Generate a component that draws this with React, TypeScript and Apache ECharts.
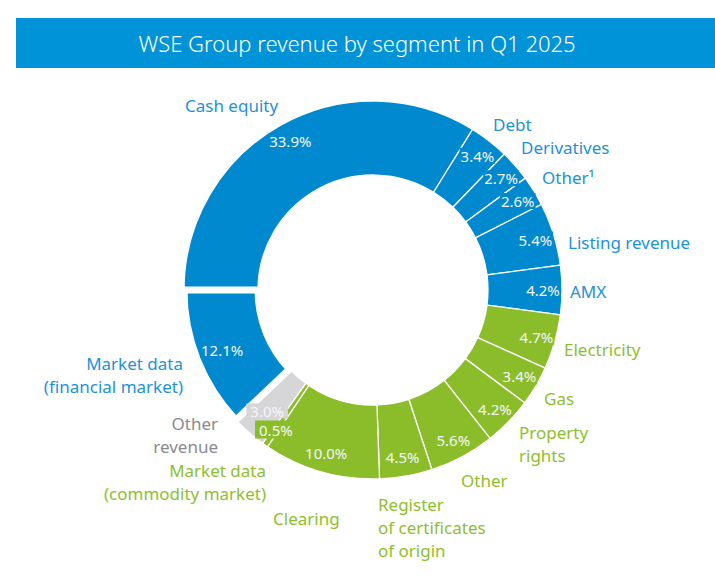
import React, { useEffect, useRef } from 'react';
import * as echarts from 'echarts';

const titleText = 'WSE Group revenue by segment in Q1 2025';

const categories = [
  'Cash equity',
  'Debt',
  'Derivatives',
  'Other¹',
  'Listing revenue',
  'AMX',
  'Electricity',
  'Gas',
  'Property rights',
  'Other',
  'Register of certificates of origin',
  'Clearing',
  'Market data (commodity market)',
  'Other revenue',
  'Market data (financial market)',
];

const displayNames = [
  'Cash equity',
  'Debt',
  'Derivatives',
  'Other¹',
  'Listing revenue',
  'AMX',
  'Electricity',
  'Gas',
  'Property\nrights',
  'Other',
  'Register\nof certificates\nof origin',
  'Clearing',
  'Market data\n(commodity market)',
  'Other\nrevenue',
  'Market data\n(financial market)',
];

const values = [33.9, 3.4, 2.7, 2.6, 5.4, 4.2, 4.7, 3.4, 4.2, 5.6, 4.5, 10.0, 0.5, 3.0, 12.1];

const segments = [
  'financial', 'financial', 'financial', 'financial', 'financial', 'financial',
  'commodity', 'commodity', 'commodity', 'commodity', 'commodity', 'commodity', 'commodity',
  'other',
  'financial',
];

// label anchor positions (layout only)
const outerLabelAnchors: [number, number, string][] = [
  [185, 105, 'left'],
  [493, 124, 'left'],
  [521, 147, 'left'],
  [542, 177, 'left'],
  [568, 242, 'left'],
  [570, 291, 'left'],
  [564, 349, 'left'],
  [544, 398, 'left'],
  [519, 444, 'left'],
  [461, 480, 'left'],
  [378, 527, 'left'],
  [273, 518, 'left'],
  [266, 482, 'right'],
  [218, 435, 'right'],
  [183, 375, 'right'],
];

const innerLabelShift: [number, number][] = [
  [0, 0], [0, 0], [0, 0], [0, 0], [0, 0], [0, 0], [0, 0], [0, 0],
  [0, 0], [0, 0], [0, 0], [0, 0], [0, 0], [6, -7], [7, -3],
];

const SLICE_COLORS: Record<string, string> = {
  financial: '#0089CF',
  commodity: '#8BBD2A',
  other: '#D6D6D8',
};
const TEXT_COLORS: Record<string, string> = {
  financial: '#1D92D8',
  commodity: '#8DBF2D',
  other: '#8A8A8C',
};

const FONT = '"Noto Sans", "Open Sans", sans-serif';

export default function App() {
  const ref = useRef<HTMLDivElement>(null);

  useEffect(() => {
    document.body.style.margin = '0';
    const chart = echarts.init(ref.current!, null, { renderer: 'svg' });

    const ringData = categories.map((name, i) => ({
      name,
      value: values[i],
      itemStyle: {
        color: SLICE_COLORS[segments[i]],
        borderColor: '#ffffff',
        borderWidth: i === 14 ? 7 : 1.3,
      },
      label: { color: TEXT_COLORS[segments[i]] },
    }));

    const pctData = categories.map((name, i) => ({
      name,
      value: values[i],
      label: {
        backgroundColor: SLICE_COLORS[segments[i]],
        padding: i === 12 ? [2, 4, 1, 4] : i === 13 ? [0, 4, 0, 4] : [1, 1, 0, 1],
      },
    }));

    chart.setOption({
      animation: false,
      graphic: [
        {
          type: 'rect',
          shape: { x: 16, y: 18, width: 699, height: 50 },
          style: { fill: '#0093D8' },
        },
        {
          type: 'text',
          x: 357,
          y: 43,
          style: {
            text: titleText,
            fill: '#ffffff',
            fontFamily: FONT,
            fontSize: 22,
            fontWeight: 300,
            textAlign: 'center',
            textVerticalAlign: 'middle',
          },
        },
      ],
      series: [
        {
          type: 'pie',
          center: [373, 290],
          radius: [115, 189],
          startAngle: 180,
          clockwise: true,
          silent: true,
          avoidLabelOverlap: false,
          emphasis: { disabled: true },
          data: ringData,
          label: {
            show: true,
            position: 'outside',
            formatter: (p: any) => displayNames[p.dataIndex],
            fontFamily: FONT,
            fontSize: 17,
            lineHeight: 23,
          },
          labelLine: { show: false },
          labelLayout: (p: any) => {
            const a = outerLabelAnchors[p.dataIndex];
            return { x: a[0], y: a[1], align: a[2], verticalAlign: 'middle' };
          },
        },
        {
          type: 'pie',
          center: [373, 290],
          radius: [148, 186],
          startAngle: 180,
          clockwise: true,
          silent: true,
          avoidLabelOverlap: false,
          emphasis: { disabled: true },
          itemStyle: { color: 'rgba(0,0,0,0)', borderWidth: 0 },
          data: pctData,
          label: {
            show: true,
            position: 'inside',
            rotate: 0,
            formatter: (p: any) => values[p.dataIndex].toFixed(1) + '%',
            color: '#F4F7FA',
            fontFamily: FONT,
            fontSize: 15,
          },
          labelLine: { show: false },
          labelLayout: (p: any) => {
            const s = innerLabelShift[p.dataIndex];
            return { dx: s[0], dy: s[1] };
          },
        },
      ],
    });

    return () => chart.dispose();
  }, []);

  return <div ref={ref} style={{ width: 715, height: 581 }} />;
}
